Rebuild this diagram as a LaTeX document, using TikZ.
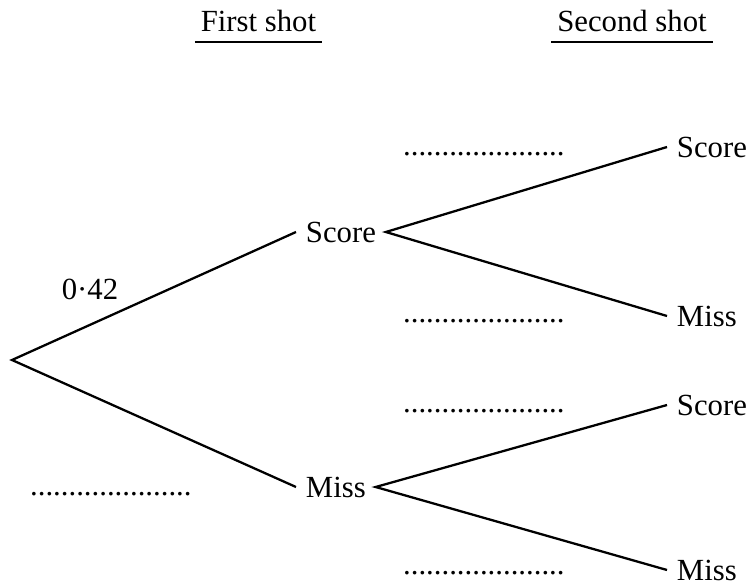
\documentclass[tikz,border=0pt]{standalone}
\usepackage{fontspec}
\setmainfont{Liberation Serif}

\begin{document}
\begin{tikzpicture}[x=0.02cm,y=-0.02cm,line width=1.3pt,
	every node/.style={font=\fontsize{17.5}{21}\selectfont},
	outcome/.style={anchor=west,inner xsep=5pt},
	blank/.style={anchor=base west,inner sep=0pt},
	heading/.style={anchor=base,inner xsep=2.8pt,inner ysep=5.4pt}]
	\useasboundingbox (0,0) rectangle (751,585);
	% headings
	\node[heading] (hfirst) at (258.5,31) {First shot};
	\node[heading] (hsecond) at (632,31) {Second shot};
	\draw[line width=0.8pt] (hfirst.south west) -- (hfirst.south east);
	\draw[line width=0.8pt] (hsecond.south west) -- (hsecond.south east);
	% first shot
	\coordinate (root) at (12,360);
	\node[outcome] (s1) at (296,232) {Score};
	\node[outcome] (m1) at (296,487) {Miss};
	\draw (s1.west) -- (root) -- (m1.west);
	% second shot
	\node[outcome] (s1s) at (667,147) {Score};
	\node[outcome] (s1m) at (667,316) {Miss};
	\node[outcome] (m1s) at (667,405) {Score};
	\node[outcome] (m1m) at (667,570) {Miss};
	\draw (s1s.west) -- (s1.east) -- (s1m.west);
	\draw (m1s.west) -- (m1.east) -- (m1m.west);
	% probabilities
	\node[anchor=base,inner sep=0pt] (p1) at (90,299) {0·42};
	\node[blank] (b1) at (29,495) {.....................};
	\node[blank] (b2) at (402,155) {.....................};
	\node[blank] (b3) at (402,322) {.....................};
	\node[blank] (b4) at (402,412) {.....................};
	\node[blank] (b5) at (402,574) {.....................};
\end{tikzpicture}
\end{document}
